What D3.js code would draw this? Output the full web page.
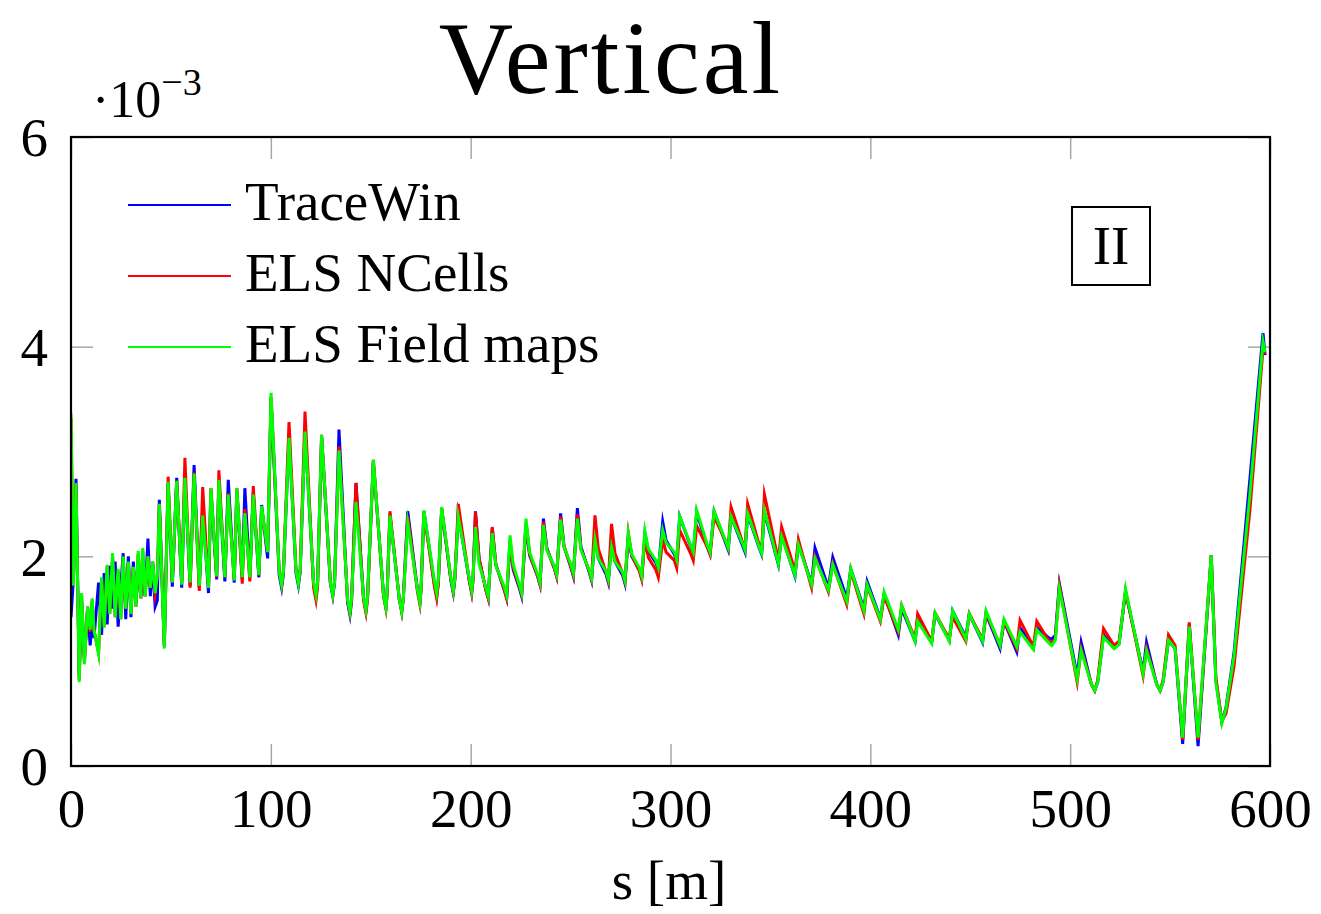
<!DOCTYPE html>
<html>
<head>
<meta charset="utf-8">
<script src="https://cdn.jsdelivr.net/npm/d3@7"></script>
<style>
  html, body { margin: 0; padding: 0; background: #fff; }
  svg { display: block; }
  text { font-family: "Liberation Serif", "Times New Roman", serif; fill: #000; }
</style>
</head>
<body>
<svg id="chart" width="1321" height="914"></svg>
<script>
// ---------- data (values in units of 1e-3) ----------
const sPos = [
  0, 1.2, 2.5, 4.1, 5.3, 6.7, 8.3, 9.6, 10.6, 11.5, 13.8, 15.3, 16.6, 18.1, 19.4, 20.8, 22.1, 23.6, 24.9, 26.1,
  27.4, 28.7, 30.0, 31.2, 32.5, 33.6, 34.9, 35.9, 37.1, 38.5, 39.7, 40.9, 42.1, 43.2, 44.2, 46.7,
  48.6, 50.7, 52.9, 55.4, 57.0, 59.6, 61.6, 64.2, 65.9, 68.8, 70.0, 72.9, 74.0, 77.0, 78.7, 81.7, 83.0, 85.7,
  87.0, 89.5, 91.2, 94.0, 95.4, 98.4,
  100.1, 104.2, 105.4, 106.3, 109.1, 112.6, 113.8, 114.7, 117.1, 121.4, 122.6, 123.4, 125.4, 129.8, 131.0, 131.9,
  134.1, 138.4, 139.6, 140.4, 142.6, 146.4, 147.6, 148.4, 151.3, 156.4, 157.6, 158.2, 159.6, 164.3, 165.5, 166.3,
  168.5, 173.4, 174.6, 175.2, 176.6, 181.8, 183.0, 183.8, 185.5, 190.1, 191.3, 192.1, 193.8, 199.3, 200.5, 201.2,
  202.4, 204.2, 207.6, 208.8, 210.8, 212.6, 216.8, 218.0, 219.7, 221.3, 224.3, 225.5, 227.7, 229.5, 233.5, 234.7,
  236.4, 238.1, 241.8, 243.0, 245.0, 246.7, 250.2, 251.4, 253.4, 255.2, 259.3, 260.5, 262.2, 263.9, 267.7, 268.9,
  270.5, 272.2, 276.0, 277.2, 278.9, 280.6, 284.4, 285.6, 287.2, 288.9, 292.7, 293.9, 296.1, 297.8, 301.9, 303.1,
  304.6, 310.2, 311.4, 313.1, 318.6, 319.8, 321.8, 327.7, 328.9, 330.3, 336.1, 337.3,
  338.6, 344.4, 345.6, 347.0, 354.0, 355.6, 362.3, 364.0, 370.6, 372.3, 379.0, 381.2, 388.2, 390.2, 396.8, 398.4,
  405.0, 406.9, 414.0, 415.7, 422.4, 423.7, 430.7, 432.4, 439.5, 441.2, 447.8, 449.5, 456.2, 457.9, 464.9, 466.9,
  473.3, 474.9, 481.6, 483.3, 489.5, 490.8, 492.6, 494.6, 503.5, 505.5, 510.6, 512.3, 513.8, 516.7, 519.0, 522.0,
  524.5, 527.7, 536.5, 538.2, 543.3, 545.0, 546.5, 549.2, 552.5, 556.3, 559.6, 564.0, 570.6, 572.9, 575.9, 578.0,
  582.0, 590.0, 596.5, 597.5
];

const traceWin = [
  1.42, 1.78, 2.74, 0.86, 1.58, 1.02, 1.50, 1.15, 1.40, 1.22, 1.75, 1.25, 1.84, 1.35, 1.91, 1.50, 1.95, 1.33, 1.70, 2.03,
  1.40, 2.00, 1.42, 1.95, 1.55, 1.95, 1.60, 1.85, 1.62, 2.17, 1.62, 1.93, 1.52, 1.58, 2.54, 1.14,
  2.70, 1.71, 2.75, 1.70, 2.75, 1.72, 2.87, 1.70, 2.45, 1.65, 2.63, 1.78, 2.73, 1.76, 2.73, 1.75, 2.63, 1.78,
  2.65, 1.80, 2.60, 1.80, 2.49, 1.98,
  3.50, 1.82, 1.70, 1.83, 3.15, 1.84, 1.72, 1.85, 3.20, 1.74, 1.62, 1.75, 3.14, 1.74, 1.62, 1.75,
  3.21, 1.56, 1.44, 1.57, 2.70, 1.60, 1.48, 1.61, 2.90, 1.63, 1.51, 1.65, 2.40, 1.59, 1.47, 1.60,
  2.43, 1.68, 1.56, 1.70, 2.43, 1.74, 1.62, 1.75, 2.45, 1.77, 1.65, 1.78, 2.40, 1.77, 1.65, 1.78,
  2.43, 1.98, 1.68, 1.60, 2.27, 1.92, 1.68, 1.60, 2.12, 1.87, 1.70, 1.62, 2.30, 2.01, 1.81, 1.73,
  2.36, 2.08, 1.89, 1.81, 2.41, 2.10, 1.89, 1.81, 2.46, 2.09, 1.85, 1.77, 2.20, 1.98, 1.83, 1.75,
  2.15, 1.95, 1.82, 1.74, 2.18, 2.00, 1.87, 1.79, 2.22, 2.05, 1.94, 1.87, 2.33, 2.15, 2.02, 1.95,
  2.38, 2.09, 2.03, 2.42, 2.08, 2.02, 2.43, 2.12, 2.06, 2.38, 2.10, 2.04,
  2.40, 2.08, 2.02, 2.42, 1.92, 2.20, 1.81, 2.12, 1.74, 2.08, 1.70, 1.99, 1.60, 1.88, 1.50, 1.76,
  1.41, 1.64, 1.25, 1.50, 1.19, 1.42, 1.18, 1.45, 1.20, 1.48, 1.23, 1.45, 1.18, 1.45, 1.12, 1.38,
  1.09, 1.32, 1.13, 1.32, 1.22, 1.21, 1.25, 1.74, 0.86, 1.18, 0.78, 0.72, 0.80, 1.25, 1.20, 1.13,
  1.17, 1.66, 0.90, 1.18, 0.78, 0.72, 0.80, 1.20, 1.12, 0.21, 1.35, 0.19, 2.01, 0.82, 0.42, 0.56,
  1.08, 2.75, 4.13, 3.92
];

const elsNCells = [
  3.32, 1.75, 2.70, 0.82, 1.63, 0.98, 1.52, 1.28, 1.58, 1.30, 1.08, 1.78, 1.33, 1.90, 1.45, 2.00, 1.42, 1.86, 1.40, 1.98,
  1.50, 1.94, 1.46, 1.90, 1.52, 2.02, 1.60, 2.05, 1.62, 2.00, 1.70, 1.95, 1.65, 1.80, 2.50, 1.15,
  2.76, 1.75, 2.72, 1.75, 2.94, 1.70, 2.80, 1.67, 2.66, 1.70, 2.65, 1.80, 2.82, 1.80, 2.60, 1.78, 2.65, 1.74,
  2.45, 1.76, 2.67, 1.82, 2.45, 2.05,
  3.52, 1.86, 1.73, 1.86, 3.28, 1.87, 1.75, 1.88, 3.38, 1.70, 1.58, 1.71, 3.16, 1.75, 1.63, 1.76,
  3.05, 1.58, 1.46, 1.59, 2.70, 1.58, 1.46, 1.59, 2.92, 1.62, 1.50, 1.64, 2.43, 1.59, 1.47, 1.60,
  2.38, 1.66, 1.54, 1.68, 2.42, 1.72, 1.60, 1.73, 2.46, 1.78, 1.66, 1.79, 2.50, 1.77, 1.65, 1.78,
  2.42, 1.98, 1.68, 1.60, 2.28, 1.92, 1.68, 1.60, 2.15, 1.89, 1.72, 1.64, 2.32, 2.02, 1.81, 1.73,
  2.33, 2.07, 1.89, 1.81, 2.38, 2.09, 1.90, 1.82, 2.40, 2.07, 1.86, 1.78, 2.39, 2.07, 1.85, 1.77,
  2.31, 2.03, 1.84, 1.76, 2.22, 2.01, 1.86, 1.78, 2.17, 1.99, 1.87, 1.80, 2.16, 2.04, 1.96, 1.89,
  2.25, 2.02, 1.96, 2.29, 2.08, 2.02, 2.38, 2.14, 2.08, 2.47, 2.13, 2.07,
  2.50, 2.11, 2.05, 2.59, 1.96, 2.28, 1.86, 2.16, 1.70, 2.00, 1.66, 1.93, 1.54, 1.86, 1.45, 1.72,
  1.38, 1.62, 1.28, 1.53, 1.21, 1.45, 1.19, 1.46, 1.21, 1.42, 1.19, 1.45, 1.21, 1.46, 1.15, 1.38,
  1.12, 1.39, 1.14, 1.38, 1.19, 1.17, 1.22, 1.72, 0.80, 1.12, 0.78, 0.72, 0.82, 1.31, 1.24, 1.15,
  1.19, 1.67, 0.86, 1.12, 0.78, 0.72, 0.82, 1.25, 1.15, 0.25, 1.37, 0.25, 2.01, 0.85, 0.43, 0.50,
  0.95, 2.45, 3.98, 3.93
];

const elsFieldMaps = [
  3.37, 1.72, 2.70, 0.80, 1.65, 0.97, 1.52, 1.30, 1.60, 1.30, 1.07, 1.80, 1.32, 1.92, 1.45, 2.03, 1.42, 1.88, 1.40, 2.00,
  1.50, 1.95, 1.45, 1.90, 1.52, 2.05, 1.60, 2.08, 1.62, 2.00, 1.70, 1.95, 1.65, 1.82, 2.50, 1.12,
  2.71, 1.75, 2.72, 1.73, 2.75, 1.75, 2.79, 1.72, 2.39, 1.70, 2.65, 1.81, 2.73, 1.80, 2.59, 1.77, 2.65, 1.80,
  2.41, 1.80, 2.59, 1.82, 2.48, 2.04,
  3.56, 1.85, 1.73, 1.86, 3.13, 1.86, 1.74, 1.87, 3.19, 1.75, 1.63, 1.76, 3.16, 1.75, 1.63, 1.76,
  3.01, 1.59, 1.47, 1.60, 2.52, 1.61, 1.49, 1.62, 2.92, 1.63, 1.51, 1.65, 2.39, 1.59, 1.47, 1.60,
  2.32, 1.68, 1.56, 1.70, 2.44, 1.77, 1.65, 1.78, 2.47, 1.79, 1.67, 1.80, 2.38, 1.79, 1.67, 1.80,
  2.28, 1.93, 1.70, 1.62, 2.22, 1.91, 1.71, 1.63, 2.20, 1.92, 1.73, 1.65, 2.36, 2.04, 1.83, 1.75,
  2.30, 2.06, 1.91, 1.83, 2.35, 2.09, 1.92, 1.84, 2.36, 2.06, 1.87, 1.79, 2.16, 1.98, 1.86, 1.78,
  2.09, 1.95, 1.85, 1.77, 2.22, 2.02, 1.89, 1.81, 2.24, 2.07, 1.96, 1.89, 2.25, 2.13, 2.04, 1.97,
  2.38, 2.10, 2.04, 2.44, 2.10, 2.04, 2.43, 2.14, 2.08, 2.38, 2.12, 2.06,
  2.41, 2.09, 2.03, 2.44, 1.93, 2.19, 1.82, 2.11, 1.73, 1.98, 1.68, 1.92, 1.57, 1.88, 1.48, 1.73,
  1.40, 1.66, 1.30, 1.53, 1.19, 1.38, 1.17, 1.46, 1.19, 1.48, 1.21, 1.45, 1.19, 1.48, 1.15, 1.40,
  1.14, 1.28, 1.11, 1.30, 1.17, 1.15, 1.20, 1.69, 0.83, 1.10, 0.78, 0.72, 0.80, 1.23, 1.18, 1.12,
  1.16, 1.69, 0.88, 1.10, 0.78, 0.72, 0.80, 1.20, 1.12, 0.27, 1.33, 0.27, 2.01, 0.80, 0.41, 0.55,
  1.05, 2.60, 4.05, 3.95
];

const seriesNames = ["TraceWin", "ELS NCells", "ELS Field maps"];
const seriesColors = ["#0000ff", "#ff0000", "#00ff00"];
const xTicks = [0, 100, 200, 300, 400, 500, 600];
const yTicks = [0, 2, 4, 6];

// ---------- layout ----------
const W = 1321, H = 914;
const plot = { left: 71, right: 1270, top: 137, bottom: 766 };
const FONT = 55;
const TICK_LEN = 22;

const svg = d3.select("#chart");
svg.append("rect").attr("width", W).attr("height", H).attr("fill", "#fff");

const x = d3.scaleLinear().domain([0, 600]).range([plot.left, plot.right]);
const y = d3.scaleLinear().domain([0, 6]).range([plot.bottom, plot.top]);

function styleAxis(g, showLabels) {
  g.select(".domain").remove();
  g.selectAll(".tick line").attr("stroke", "#a8a8a8").attr("stroke-width", 1.5);
  g.selectAll(".tick text")
    .attr("font-family", '"Liberation Serif", "Times New Roman", serif')
    .attr("font-size", FONT).attr("fill", "#000");
  if (!showLabels) g.selectAll(".tick text").remove();
}

// axes (ticks point inward)
svg.append("g").attr("transform", `translate(0,${plot.bottom})`)
  .call(d3.axisBottom(x).tickValues(xTicks).tickSize(-TICK_LEN).tickPadding(22).tickFormat(d3.format("d")))
  .call(g => styleAxis(g, true))
  .call(g => g.selectAll(".tick text").attr("dy", "0.71em"));
svg.append("g").attr("transform", `translate(0,${plot.top})`)
  .call(d3.axisTop(x).tickValues(xTicks).tickSize(-TICK_LEN).tickFormat(""))
  .call(g => styleAxis(g, false));
svg.append("g").attr("transform", `translate(${plot.left},0)`)
  .call(d3.axisLeft(y).tickValues(yTicks).tickSize(-TICK_LEN).tickPadding(23).tickFormat(d3.format("d")))
  .call(g => styleAxis(g, true))
  .call(g => g.selectAll(".tick text").attr("dy", "0.34em"));
svg.append("g").attr("transform", `translate(${plot.right},0)`)
  .call(d3.axisRight(y).tickValues(yTicks).tickSize(-TICK_LEN).tickFormat(""))
  .call(g => styleAxis(g, false));

// clip
svg.append("clipPath").attr("id", "clip")
  .append("rect").attr("x", plot.left).attr("y", plot.top)
  .attr("width", plot.right - plot.left).attr("height", plot.bottom - plot.top);

// lines
const seriesValues = [traceWin, elsNCells, elsFieldMaps];
const line = d3.line().x(d => x(d[0])).y(d => y(d[1])).curve(d3.curveLinear);
const linesG = svg.append("g").attr("clip-path", "url(#clip)");
seriesValues.forEach((vals, i) => {
  const n = Math.min(sPos.length, vals.length);
  const pts = sPos.slice(0, n).map((s, k) => [s, vals[k]]);
  linesG.append("path").datum(pts)
    .attr("d", line)
    .attr("fill", "none")
    .attr("stroke", seriesColors[i])
    .attr("stroke-width", 3)
    .attr("stroke-linejoin", "miter")
    .attr("stroke-miterlimit", 10);
});

// frame
svg.append("rect")
  .attr("x", plot.left).attr("y", plot.top)
  .attr("width", plot.right - plot.left).attr("height", plot.bottom - plot.top)
  .attr("fill", "none").attr("stroke", "#000").attr("stroke-width", 2.2);

// legend
const legend = svg.append("g");
seriesNames.forEach((name, i) => {
  const ly = 205 + i * 71;
  legend.append("line")
    .attr("x1", 128).attr("x2", 231).attr("y1", ly).attr("y2", ly)
    .attr("stroke", seriesColors[i]).attr("stroke-width", 2);
  legend.append("text")
    .attr("x", 245).attr("y", ly + 15)
    .attr("font-size", FONT)
    .text(name);
});

// "II" label box
svg.append("rect").attr("x", 1072).attr("y", 207).attr("width", 78).attr("height", 78)
  .attr("fill", "#fff").attr("stroke", "#000").attr("stroke-width", 2);
svg.append("text").attr("x", 1111).attr("y", 264).attr("text-anchor", "middle")
  .attr("font-size", FONT).text("II");

// scale factor label
const sf = svg.append("text").attr("x", 92).attr("y", 117).attr("font-size", 52);
sf.append("tspan").text("\u00b710");
sf.append("tspan").attr("font-size", 38).attr("dy", -22).text("\u22123");

// title
svg.append("text").attr("x", 611).attr("y", 93).attr("text-anchor", "middle")
  .attr("font-size", 103).attr("letter-spacing", 3).text("Vertical");

// x axis title
svg.append("text").attr("x", 669).attr("y", 899).attr("text-anchor", "middle")
  .attr("font-size", FONT).text("s [m]");
</script>
</body>
</html>
